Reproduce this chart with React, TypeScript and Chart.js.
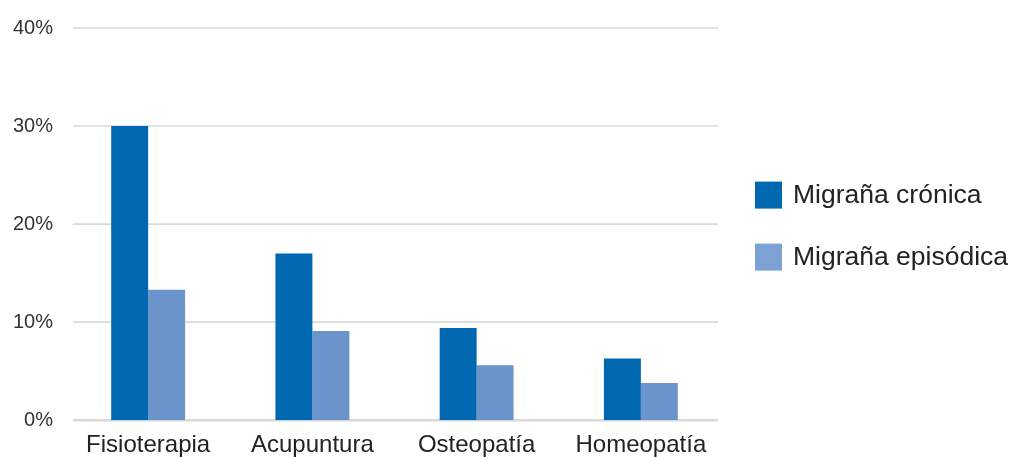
import React, { useEffect, useRef } from "react";
import { Chart, registerables } from "chart.js";

Chart.register(...registerables);

const categories = ["Fisioterapia", "Acupuntura", "Osteopatía", "Homeopatía"];
const seriesNames = ["Migraña crónica", "Migraña episódica"];
const chronic = [30, 17, 9.4, 6.3];
const episodic = [13.3, 9.1, 5.6, 3.8];
const yTicks = [0, 10, 20, 30, 40];

const FONT = "Liberation Sans, Arial, sans-serif";
const GRID = "#d9d9d9";
const barColors = ["#0067B1", "#6A94CB"];
const legendColors = ["#0067B1", "#7CA1D4"];

const gridPlugin = {
  id: "insetGrid",
  beforeDatasetsDraw(chart: any) {
    const { ctx, chartArea, scales } = chart;
    const y = scales.y;
    ctx.save();
    ctx.strokeStyle = GRID;
    yTicks.forEach((v) => {
      const py = y.getPixelForValue(v);
      ctx.lineWidth = v === 0 ? 2.5 : 1.6;
      ctx.beginPath();
      ctx.moveTo(chartArea.left + 7, py);
      ctx.lineTo(chartArea.right - 5, py);
      ctx.stroke();
    });
    ctx.restore();
  },
};

const sideLegend = {
  id: "sideLegend",
  afterDraw(chart: any) {
    const { ctx, chartArea } = chart;
    const box = 27;
    const rowGap = 62;
    const x0 = chartArea.right + 32;
    const mid = (chartArea.top + chartArea.bottom) / 2 + 2;
    const n = chart.data.datasets.length;
    ctx.save();
    ctx.font = `26.5px ${FONT}`;
    ctx.textBaseline = "middle";
    ctx.textAlign = "left";
    chart.data.datasets.forEach((d: any, i: number) => {
      const cy = mid + (i - (n - 1) / 2) * rowGap;
      ctx.fillStyle = legendColors[i];
      ctx.fillRect(x0, cy - box / 2, box, box);
      ctx.fillStyle = "#222";
      ctx.fillText(d.label, x0 + box + 11, cy + 1);
    });
    ctx.restore();
  },
};

export default function App() {
  const ref = useRef<HTMLCanvasElement | null>(null);
  useEffect(() => {
    if (!ref.current) return;
    const chart = new Chart(ref.current, {
      type: "bar",
      data: {
        labels: categories,
        datasets: [
          { label: seriesNames[0], data: chronic, backgroundColor: barColors[0], borderWidth: 0 },
          { label: seriesNames[1], data: episodic, backgroundColor: barColors[1], borderWidth: 0 },
        ],
      },
      plugins: [gridPlugin, sideLegend],
      options: {
        responsive: false,
        animation: false,
        devicePixelRatio: 1,
        layout: { padding: { top: 28, right: 287, left: 0, bottom: 0 } },
        datasets: { bar: { categoryPercentage: 0.45, barPercentage: 1 } },
        plugins: {
          tooltip: { enabled: false },
          legend: { display: false },
        },
        scales: {
          x: {
            grid: { display: false, drawTicks: false },
            border: { display: false },
            ticks: {
              color: "#222",
              padding: 11,
              font: { family: FONT, size: 24 },
            },
          },
          y: {
            min: 0,
            max: 40,
            afterBuildTicks: (s: any) => {
              s.ticks = yTicks.map((v) => ({ value: v }));
            },
            grid: { display: false, drawTicks: false },
            border: { display: false },
            ticks: {
              color: "#333",
              padding: 13,
              font: { family: FONT, size: 20 },
              callback: (v: any) => v + "%",
            },
          },
        },
      },
    });
    return () => chart.destroy();
  }, []);
  return (
    <div style={{ position: "fixed", left: 0, top: 0, width: 1010, height: 457, background: "#fff", overflow: "hidden" }}>
      <canvas ref={ref} width={1010} height={471} />
    </div>
  );
}
